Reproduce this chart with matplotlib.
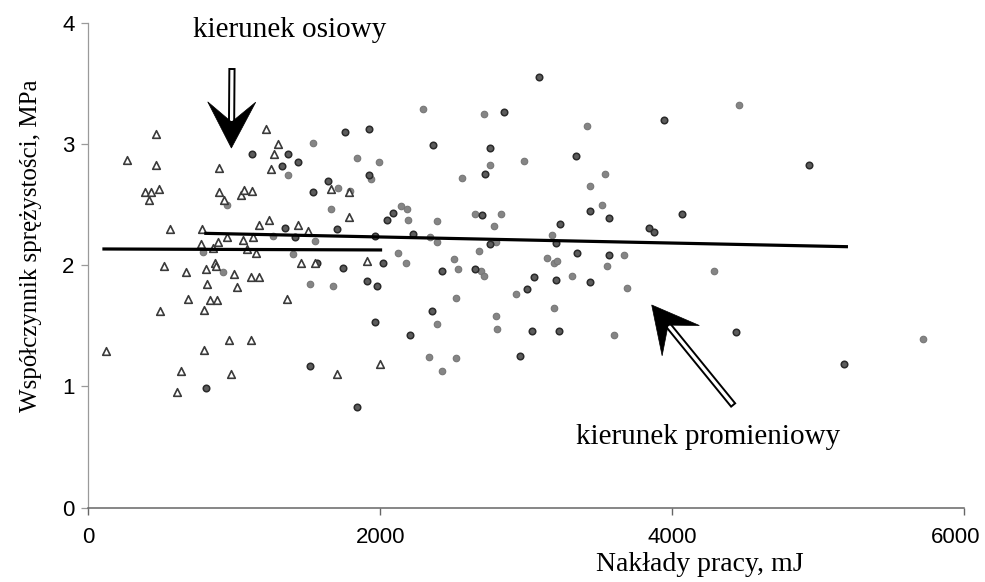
import numpy as np
import matplotlib
matplotlib.use("Agg")
import matplotlib.pyplot as plt
from matplotlib.patches import Polygon
from matplotlib.transforms import IdentityTransform, ScaledTranslation

# kierunek osiowy (triangles)
axial_x = [463, 266, 463, 388, 429, 486, 415, 1216, 897, 1297, 1271, 1249, 897, 929,
           1043, 1068, 1118, 1660, 1787, 1787, 559, 776, 1171, 1239, 1438, 1502, 947,
           1057, 1125, 886, 769, 855, 1084, 1148, 867, 874, 518, 668, 805, 997, 1112,
           1171, 814, 1020, 1456, 1552, 1910, 684, 833, 879, 1362, 490, 792, 965, 1112,
           792, 118, 632, 975, 1705, 1997, 609]
axial_y = [3.08, 2.87, 2.83, 2.60, 2.60, 2.63, 2.54, 3.12, 2.80, 3.00, 2.92, 2.79, 2.60, 2.54,
           2.58, 2.62, 2.61, 2.63, 2.60, 2.40, 2.30, 2.30, 2.33, 2.37, 2.33, 2.28, 2.23,
           2.21, 2.23, 2.19, 2.17, 2.14, 2.13, 2.10, 2.02, 1.99, 1.99, 1.94, 1.97, 1.93, 1.90,
           1.90, 1.84, 1.82, 2.02, 2.02, 2.03, 1.72, 1.71, 1.71, 1.72, 1.62, 1.63, 1.38, 1.38,
           1.30, 1.29, 1.13, 1.10, 1.10, 1.18, 0.95]

# kierunek promieniowy - darker points
radial_dark_x = [1758, 1920, 1118, 1369, 1324, 1438, 1920, 1639, 1540, 2043, 2088, 1701, 1347,
                 1963, 1415, 2020, 1564, 1746, 1906, 1975, 1963, 2203, 1518, 805, 1838,
                 3086, 2847, 3942, 2362, 2751, 3338, 2721, 2225, 2696, 2755, 3440, 3566, 3235,
                 3201, 3840, 3874, 4071, 3349, 3566, 2422, 2650, 3052, 3201, 3440, 3006, 2353,
                 3040, 3223, 4436, 2961, 4940, 5180]
radial_dark_y = [3.10, 3.12, 2.92, 2.92, 2.82, 2.85, 2.74, 2.69, 2.60, 2.37, 2.43, 2.30, 2.31,
                 2.24, 2.23, 2.02, 2.02, 1.98, 1.87, 1.83, 1.53, 1.42, 1.17, 0.99, 0.83,
                 3.55, 3.26, 3.20, 2.99, 2.97, 2.90, 2.75, 2.26, 2.41, 2.17, 2.45, 2.39, 2.34,
                 2.18, 2.31, 2.27, 2.42, 2.10, 2.08, 1.95, 1.97, 1.90, 1.88, 1.86, 1.80, 1.62,
                 1.46, 1.46, 1.45, 1.25, 2.83, 1.18]

# kierunek promieniowy - lighter points
radial_light_x = [1540, 1369, 1838, 1990, 1934, 1712, 1792, 1666, 2139, 2180, 2191, 947, 1266,
                  1552, 787, 1403, 2123, 2175, 920, 1518, 1677,
                  2294, 2710, 3417, 4458, 2751, 2984, 2559, 3543, 3440, 2386, 2340, 2386, 2650,
                  2824, 2778, 2790, 2675, 3520, 3177, 3668, 3554, 3143, 3189, 3212, 2504, 2536,
                  2687, 2710, 3314, 3691, 4285, 2927, 2516, 2386, 2790, 2801, 3189, 3600, 2331,
                  2516, 2422, 5718]
radial_light_y = [3.01, 2.74, 2.88, 2.85, 2.71, 2.64, 2.61, 2.46, 2.49, 2.46, 2.37, 2.50, 2.24,
                  2.20, 2.11, 2.09, 2.10, 2.02, 1.94, 1.84, 1.83,
                  3.29, 3.25, 3.15, 3.32, 2.83, 2.86, 2.72, 2.75, 2.65, 2.36, 2.23, 2.19, 2.42,
                  2.42, 2.32, 2.19, 2.12, 2.50, 2.25, 2.08, 1.99, 2.06, 2.02, 2.03, 2.05, 1.97,
                  1.95, 1.91, 1.91, 1.81, 1.95, 1.76, 1.73, 1.51, 1.58, 1.47, 1.65, 1.42, 1.24,
                  1.23, 1.13, 1.39]

# trend lines (start/end)
axial_trend_x = [107, 2002]
axial_trend_y = [2.133, 2.125]
radial_trend_x = [805, 5194]
radial_trend_y = [2.262, 2.152]

fig = plt.figure(figsize=(9.85, 5.82), dpi=100)
ax = fig.add_subplot(111)
fig.subplots_adjust(left=0.0897, right=0.9787, bottom=0.128, top=0.961)

ax.scatter(radial_light_x, radial_light_y, s=22, marker="o", facecolor="#858585",
           edgecolor="#777777", linewidths=0.8, zorder=3)
ax.scatter(radial_dark_x, radial_dark_y, s=22, marker="o", facecolor="#5c5c5c",
           edgecolor="#2a2a2a", linewidths=1.1, zorder=3)
ax.scatter(axial_x, axial_y, s=30, marker="^", facecolor="white",
           edgecolor="#3a3a3a", linewidths=1.2, zorder=4)

ax.plot(axial_trend_x, axial_trend_y, color="black", lw=2.3, zorder=5)
ax.plot(radial_trend_x, radial_trend_y, color="black", lw=2.3, zorder=5)

ax.set_xlim(0, 6000)
ax.set_ylim(0, 4)
ax.set_xticks([0, 2000, 4000, 6000])
ax.set_yticks([0, 1, 2, 3, 4])

for s in ["top", "right"]:
    ax.spines[s].set_visible(False)
ax.spines["left"].set_color("#9a9a9a")
ax.spines["left"].set_linewidth(0.9)
ax.spines["bottom"].set_color("#666666")
ax.spines["bottom"].set_linewidth(1.1)
ax.tick_params(axis="y", direction="out", length=5, width=0.9, color="#9a9a9a", pad=5)
ax.tick_params(axis="x", direction="out", length=5, width=1.0, color="#666666", pad=9)
for lab in ax.get_xticklabels() + ax.get_yticklabels():
    lab.set_fontfamily("Liberation Sans")
    lab.set_fontsize(16)
# keep the last x label inside the figure
last = ax.get_xticklabels()[-1]
last.set_transform(last.get_transform() + ScaledTranslation(-6 / 72, 0, fig.dpi_scale_trans))

ax.set_xlabel("Nakłady pracy, mJ", family="Liberation Serif", fontsize=20)
ax.xaxis.set_label_coords(0.698, -0.118)
ax.xaxis.label.set_va("center")
ax.set_ylabel("Współczynnik sprężystości, MPa", family="Liberation Serif", fontsize=18)
ax.yaxis.set_label_coords(-0.065, 0.54)
ax.yaxis.label.set_va("center")

ax.text(1381, 3.94, "kierunek osiowy", family="Liberation Serif", fontsize=21,
        ha="center", va="center")
ax.text(4249, 0.58, "kierunek promieniowy", family="Liberation Serif", fontsize=21,
        ha="center", va="center")


def draw_arrow(tail, tip, head_len=46, head_half=24, notch=20, shaft_half=2.6):
    # geometry in pixels, positions given in data units
    p0 = ax.transData.transform(tail)
    p1 = ax.transData.transform(tip)
    u = (p1 - p0) / np.hypot(*(p1 - p0))
    n = np.array([-u[1], u[0]])
    base = p1 - head_len * u
    nck = p1 - (head_len - notch) * u
    shaft = [p0 + shaft_half * n, nck + shaft_half * n, nck - shaft_half * n, p0 - shaft_half * n]
    fig.add_artist(Polygon(shaft, closed=True, facecolor="white", edgecolor="black",
                           linewidth=1.4, transform=IdentityTransform(), zorder=6))
    head = [p1, base + head_half * n, nck, base - head_half * n]
    fig.add_artist(Polygon(head, closed=True, facecolor="black", edgecolor="black",
                           linewidth=0.5, transform=IdentityTransform(), zorder=7))


draw_arrow((984, 3.618), (980, 2.966))
draw_arrow((4418, 0.846), (3860, 1.671))

fig.savefig("out.png", dpi=100)
